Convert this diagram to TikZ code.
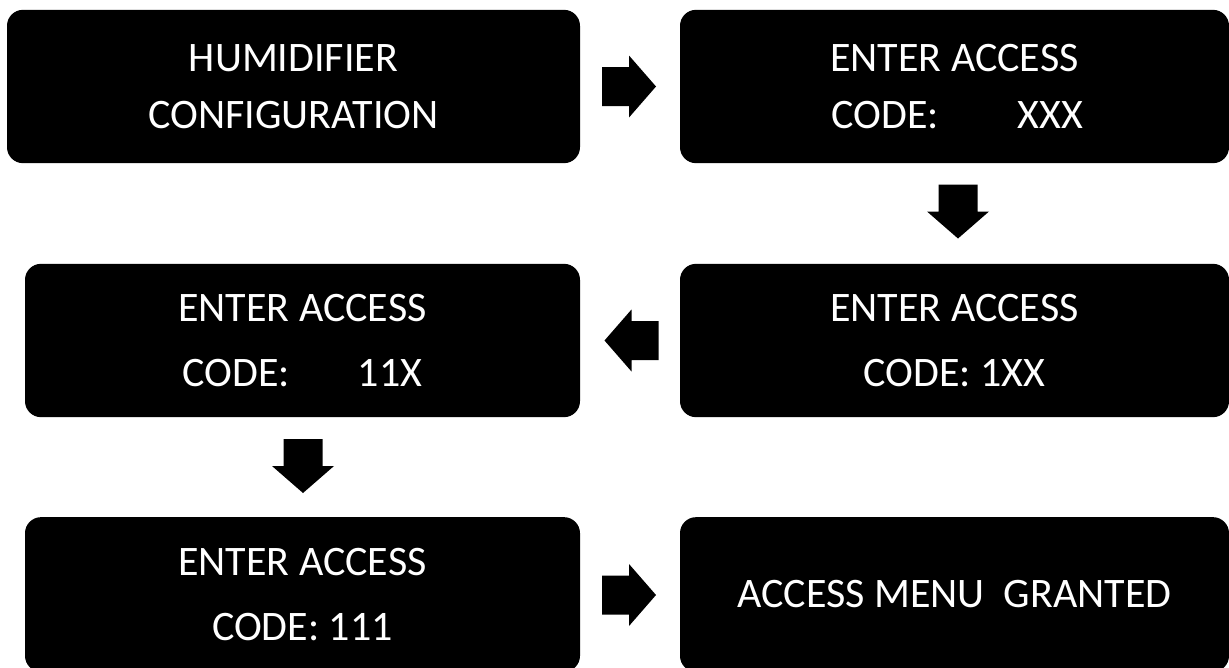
\documentclass[tikz,border=0pt]{standalone}
\usepackage{fontspec}
\setmainfont{Carlito}
\begin{document}
\begin{tikzpicture}[x=0.75pt,y=-0.75pt,
  screen/.style={fill=black, text=white, rounded corners=12pt, inner sep=0pt,
    align=center, minimum height=115pt},
  wide/.style={minimum width=411.75pt},
  narrow/.style={minimum width=416.25pt},
  tight/.style={font=\fontsize{31.5}{42.75}\selectfont},
  loose/.style={font=\fontsize{31.5}{48.75}\selectfont},
  blockarrow/.pic={\fill[black] (-27,-19.5) -- (0,-19.5) -- (0,-31) -- (27,0)
      -- (0,31) -- (0,19.5) -- (-27,19.5) -- cycle;}]
\useasboundingbox (0,0) rectangle (1229,668);

\node[screen, tight, minimum width=429.75pt] (b1) at (293.5,86.5) {HUMIDIFIER\\CONFIGURATION};
\node[screen, tight, wide] (b2) at (954.5,86.5) {ENTER ACCESS\\\hspace*{4pt}CODE:\hspace{59pt}XXX};
\node[screen, loose, narrow] (b3) at (302.5,340.5) {ENTER ACCESS\\CODE:\hspace{51pt}11X};
\node[screen, loose, wide] (b4) at (954.5,340.5) {ENTER ACCESS\\CODE: 1XX};
\node[screen, loose, narrow, minimum height=116pt] (b5) at (302.5,594.5) {ENTER ACCESS\\CODE: 111};
\node[screen, loose, wide, minimum height=116pt] (b6) at (954.5,594.5) {\raisebox{-3pt}{ACCESS MENU\ \ GRANTED}};

\pic at (629,86.5) {blockarrow};
\pic[rotate=-90] at (958,211.5) {blockarrow};
\pic[rotate=180] at (631.5,340.5) {blockarrow};
\pic[rotate=-90] at (303,466) {blockarrow};
\pic at (629,595) {blockarrow};
\end{tikzpicture}
\end{document}
